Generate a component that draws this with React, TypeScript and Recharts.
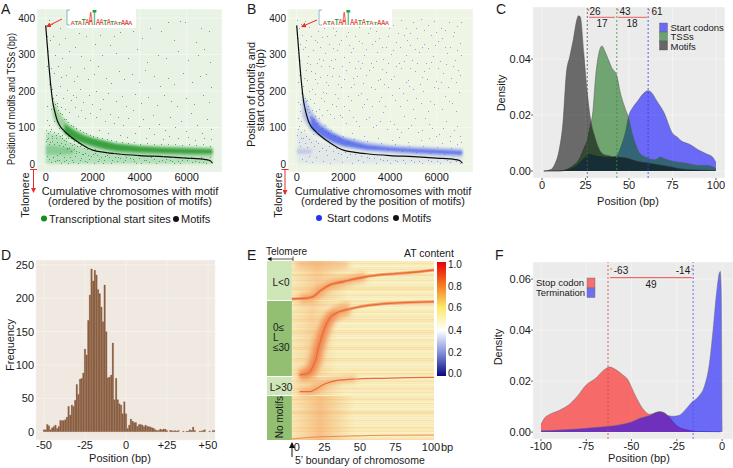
import React from "react";
import { ComposedChart, XAxis, YAxis, CartesianGrid, Area, Line, Scatter, Bar, ReferenceLine, ReferenceArea } from "recharts";

const FONT = "'Liberation Sans', Arial, sans-serif";
const INK = "#1a1a1a";

// ---- Panels A and B: motif curve
const motifX = [0, 50, 100, 150, 200, 250, 300, 400, 500, 600, 800, 1000, 1500, 2000, 2500, 3000, 4000, 5000, 6000, 6800, 7000, 7100];
const motifY = [380, 340, 300, 260, 225, 195, 170, 140, 118, 105, 90, 78, 55, 38, 32, 28, 23, 20, 16, 12, 9, 2];
const motifCurve = motifX.map((x, i) => ({ x, y: motifY[i] }));

// ---- Panel A: TSS bands [x, low, high]
const tssCloud = [[0, 0, 88], [500, 0, 82], [1000, 0, 60], [1500, 0, 48], [2000, 0, 38], [3000, 0, 28], [4000, 0, 23], [5000, 0, 20], [6000, 0, 18], [7100, 0, 14]];
const tssStrip = [[0, 26, 50], [400, 26, 50], [800, 26, 46], [1200, 28, 42]];
const tssOuter = [[300, 130, 178], [500, 105, 150], [700, 90, 130], [1000, 72, 108], [1500, 55, 88], [2000, 42, 75], [2500, 35, 65], [3000, 28, 58], [4000, 24, 52], [5000, 22, 50], [6000, 20, 48], [7100, 18, 46]];
const tssCore = [[800, 85, 110], [1200, 68, 92], [1600, 58, 78], [2000, 50, 70], [2500, 42, 62], [3000, 36, 55], [4000, 32, 48], [5000, 30, 44], [6000, 28, 42], [7100, 28, 40]];
// ---- Panel A: individually read sparse dots
const tssDots = [
  [120, 395], [40, 350], [260, 385], [600, 372], [820, 345], [1420, 360], [1710, 352], [2300, 355], [2890, 350], [3150, 362], [3720, 364], [4100, 345], [4420, 372], [4900, 365], [5210, 390], [5700, 392], [5920, 388], [6610, 372], [6950, 365], [6400, 335], [6720, 315], [5450, 340], [2720, 325], [2100, 330], [1230, 320], [560, 330], [330, 350], [180, 340],
  [90, 310], [410, 300], [710, 290], [980, 310], [1510, 295], [1900, 285], [2380, 300], [3010, 305], [3500, 290], [3890, 315], [4300, 280], [4770, 300], [5120, 290], [5620, 310], [6050, 285], [6480, 298], [7000, 280],
  [60, 270], [210, 262], [370, 250], [520, 270], [640, 238], [860, 245], [1030, 265], [1190, 228], [1340, 240], [1620, 262], [1780, 232], [2050, 248], [2240, 268], [2560, 236], [2770, 222], [3120, 255], [3340, 232], [3660, 246], [3980, 225], [4210, 258], [4610, 240], [4880, 215], [5190, 235], [5480, 218], [5830, 250], [6240, 226], [6570, 240], [6830, 248], [7020, 212],
  [150, 218], [280, 205], [440, 190], [590, 215], [730, 182], [900, 202], [1070, 176], [1150, 190], [1280, 184], [1460, 206], [1570, 170], [1840, 188], [1990, 165], [2160, 200], [2450, 178], [2660, 195], [2980, 172], [3230, 186], [3410, 160], [3780, 192], [4060, 168], [4350, 184], [4720, 162], [5020, 190], [5340, 172], [5590, 158], [5960, 182], [6330, 165], [6690, 190], [6940, 170],
  [70, 160], [230, 150], [480, 168], [660, 155], [820, 150], [1010, 142], [1240, 155], [1380, 132], [1520, 148], [1690, 125], [1880, 140], [2120, 128], [2310, 150], [2530, 118], [2720, 138], [2900, 112], [3090, 130], [3300, 108], [3520, 126], [3710, 148], [3950, 104], [4140, 122], [4380, 98], [4560, 134], [4810, 110], [5060, 94], [5280, 128], [5510, 102], [5760, 118], [5990, 90], [6190, 140], [6420, 108], [6640, 86], [6860, 124], [7050, 96],
  [40, 120], [130, 108], [210, 96], [340, 118], [430, 80], [560, 100], [690, 70], [850, 72], [2280, 92], [2650, 86], [3180, 80], [3440, 74], [3820, 84], [4250, 72], [4620, 82], [4990, 68], [5230, 76], [5650, 70], [6060, 74], [6370, 66], [6750, 70], [7040, 68],
  [60, 68], [150, 55], [250, 72], [330, 20], [470, 12], [620, 30], [760, 8], [900, 45], [1040, 18], [1180, 5], [1310, 35], [1450, 12], [1600, 28], [1750, 6], [1930, 22], [2090, 30], [2260, 14], [2420, 4], [2600, 24], [2840, 10], [3060, 20], [3290, 6], [3570, 16], [3840, 4], [4170, 12], [4490, 18], [4830, 8], [5140, 14], [5470, 3], [5800, 10], [6120, 16], [6510, 5], [6890, 12],
];
// ---- Panel A: the speckle of the low cloud and the edges of the dense band
const tssSpeckle = [
  [20, 92], [90, 84], [170, 90], [260, 78], [340, 88], [420, 72], [510, 84], [600, 76], [690, 80], [770, 66], [860, 62], [940, 70], [1050, 58], [1130, 52], [1220, 56], [1350, 48], [1480, 50], [1620, 44], [1770, 40], [1900, 42],
  [30, 62], [110, 70], [190, 60], [280, 64], [370, 55], [460, 60], [550, 52], [640, 58], [730, 48], [820, 54], [910, 40], [1000, 44], [1090, 36], [1190, 40], [1290, 30], [1400, 34], [1540, 26], [1680, 30], [1820, 24], [2010, 28], [2170, 24], [2340, 20], [2510, 22], [2700, 18], [2930, 20], [3180, 16], [3420, 18], [3700, 14], [3970, 16], [4260, 12], [4600, 14], [4950, 10], [5300, 12], [5650, 8], [6000, 10], [6350, 8], [6700, 6], [7000, 8],
  [40, 22], [130, 14], [220, 6], [310, 18], [400, 8], [490, 24], [580, 12], [670, 4], [760, 20], [850, 10], [950, 3], [1110, 12], [1260, 22], [1380, 4], [1520, 16], [1670, 8], [1840, 14], [2040, 4], [2210, 8], [2480, 12], [2760, 3], [3020, 8], [3380, 10], [3760, 7], [4050, 3], [4380, 5], [4700, 3], [5060, 6], [5390, 7], [5730, 4], [6240, 5], [6800, 3],
  [320, 182], [400, 164], [470, 158], [540, 148], [620, 140], [700, 136], [780, 124], [860, 122], [960, 115], [1080, 108], [1180, 104], [1300, 98], [1440, 94], [1580, 88], [1730, 84], [1870, 80], [2030, 78], [2200, 74], [2400, 70], [2600, 68], [2800, 66], [3000, 62], [3250, 60], [3500, 58], [3750, 60], [4000, 56], [4300, 58], [4600, 54], [4900, 56], [5200, 54], [5500, 56], [5800, 52], [6100, 54], [6400, 52], [6700, 54], [7000, 50],
  [720, 92], [820, 84], [940, 76], [1060, 70], [1210, 62], [1360, 58], [1520, 52], [1700, 50], [1900, 44], [2100, 40], [2350, 36], [2600, 32], [2900, 30], [3200, 28], [3550, 26], [3900, 24], [4250, 24], [4600, 22], [5000, 22], [5400, 20], [5800, 20], [6200, 20], [6600, 20], [7000, 18],
];

// ---- Panel B: start codon bands and dots
const startCloud = [[0, 0, 95], [500, 0, 80], [1000, 0, 60], [2000, 0, 42], [3000, 0, 32], [5000, 0, 24], [7100, 0, 20]];
const startStrip = [[0, 28, 42], [300, 28, 42], [650, 28, 40]];
const startOuter = [[250, 130, 192], [500, 100, 160], [800, 80, 130], [1000, 75, 115], [1500, 55, 90], [2000, 45, 75], [3000, 35, 60], [4000, 30, 52], [5000, 25, 48], [6000, 22, 45], [7100, 20, 42]];
const startCore = [[600, 100, 135], [1000, 80, 105], [1500, 62, 85], [2000, 50, 70], [2500, 45, 60], [3000, 40, 52], [4000, 36, 45], [5000, 32, 41], [6000, 29, 38], [7100, 26, 35]];
const startDots = [
  [30, 395], [90, 372], [180, 385], [350, 392], [540, 375], [780, 396], [1010, 380], [1300, 392], [1560, 372], [1820, 395], [2090, 382], [2430, 398], [2680, 375], [2950, 388], [3260, 398], [3540, 378], [3810, 392], [4120, 380], [4460, 396], [4700, 374], [4990, 388], [5320, 398], [5610, 380], [5880, 392], [6200, 374], [6530, 390], [6880, 378],
  [70, 345], [220, 355], [410, 340], [620, 352], [860, 335], [1100, 348], [1390, 330], [1630, 355], [1910, 340], [2220, 325], [2510, 350], [2780, 332], [3050, 358], [3340, 338], [3660, 322], [3930, 350], [4270, 335], [4580, 355], [4860, 325], [5160, 345], [5470, 330], [5760, 355], [6050, 338], [6360, 322], [6690, 350], [6990, 332],
  [50, 310], [290, 315], [500, 295], [710, 312], [960, 288], [1220, 305], [1480, 285], [1740, 312], [2010, 292], [2330, 306], [2620, 282], [2890, 300], [3180, 276], [3450, 308], [3720, 288], [4030, 302], [4380, 278], [4670, 298], [4950, 284], [5250, 306], [5540, 276], [5850, 296], [6130, 282], [6440, 304], [6780, 286], [7040, 298],
  [160, 270], [380, 258], [590, 275], [800, 250], [1040, 268], [1290, 245], [1570, 262], [1830, 240], [2120, 258], [2400, 236], [2700, 262], [2980, 244], [3290, 266], [3570, 232], [3840, 252], [4150, 240], [4490, 264], [4780, 230], [5060, 256], [5380, 238], [5680, 262], [5980, 228], [6290, 250], [6600, 236], [6910, 258],
  [60, 225], [250, 215], [450, 230], [660, 205], [890, 222], [1130, 198], [1360, 216], [1640, 192], [1900, 210], [2190, 186], [2470, 218], [2750, 196], [3020, 178], [3360, 206], [3630, 184], [3900, 212], [4210, 176], [4540, 196], [4830, 214], [5120, 180], [5430, 200], [5730, 172], [6040, 208], [6350, 186], [6660, 168], [6970, 198],
  [40, 170], [140, 145], [460, 175], [720, 168], [950, 150], [1190, 172], [1440, 138], [1700, 158], [1960, 128], [2260, 148], [2540, 118], [2820, 155], [3120, 130], [3410, 108], [3700, 142], [3990, 118], [4320, 96], [4610, 132], [4900, 108], [5200, 88], [5510, 125], [5800, 100], [6110, 82], [6420, 118], [6730, 92], [7020, 76],
  [50, 125], [110, 105], [200, 118], [300, 92], [410, 78], [540, 68], [680, 82], [840, 62], [2350, 86], [2900, 76], [3500, 70], [4080, 66], [4400, 74], [4750, 60], [5320, 65], [5660, 72], [6220, 58], [6550, 64], [6880, 56], [7060, 60],
  [30, 80], [80, 60], [130, 48], [190, 70], [240, 15], [380, 8], [520, 22], [660, 5], [810, 18], [970, 35], [1120, 8], [1280, 24], [1430, 4], [1590, 14], [1760, 30], [1950, 6], [2140, 20], [2370, 3], [2610, 12], [2860, 6], [3110, 16], [3390, 3], [3680, 10], [3990, 2], [4310, 8], [4640, 3], [5010, 6], [5380, 2], [5770, 7], [6160, 3], [6590, 5], [6980, 2],
];
const startSpeckle = [
  [240, 378], [610, 388], [930, 365], [1180, 372], [1700, 365], [2200, 362], [2560, 385], [3150, 372], [3420, 365], [3960, 372], [4350, 360], [4850, 360], [5120, 372], [5470, 368], [5990, 362], [6340, 368], [6760, 362], [7030, 390],
  [160, 330], [350, 322], [780, 340], [1010, 322], [1280, 352], [1570, 318], [1820, 328], [2110, 352], [2410, 318], [2680, 338], [2990, 316], [3240, 328], [3530, 345], [3810, 320], [4140, 312], [4440, 322], [4740, 340], [5050, 315], [5360, 322], [5640, 318], [5940, 325], [6240, 345], [6560, 320], [6860, 312],
  [120, 285], [420, 278], [610, 255], [880, 278], [1120, 285], [1380, 270], [1650, 288], [1920, 268], [2240, 280], [2520, 262], [2800, 276], [3080, 258], [3380, 282], [3640, 260], [3920, 276], [4260, 268], [4580, 282], [4870, 262], [5160, 278], [5460, 256], [5770, 280], [6060, 262], [6380, 275], [6710, 268], [7000, 245],
  [90, 245], [300, 235], [520, 200], [770, 232], [1000, 238], [1240, 225], [1500, 240], [1760, 220], [2040, 232], [2310, 212], [2600, 240], [2860, 222], [3170, 212], [3480, 230], [3760, 218], [4060, 232], [4370, 208], [4690, 226], [4980, 205], [5280, 220], [5590, 234], [5880, 210], [6180, 224], [6500, 212], [6820, 226],
  [180, 195], [350, 182], [570, 178], [780, 192], [1030, 182], [1260, 195], [1510, 165], [1780, 182], [2040, 160], [2320, 176], [2630, 190], [2900, 165], [3210, 158], [3510, 172], [3780, 160], [4100, 188], [4420, 160], [4730, 175], [5000, 150], [5310, 168], [5620, 145], [5900, 165], [6210, 150], [6540, 172], [6820, 145],
  [120, 165], [310, 155], [820, 145], [1080, 135], [1300, 148], [1580, 125], [1840, 135], [2120, 112], [2400, 130], [2680, 105], [2970, 122], [3260, 102], [3580, 118], [3860, 95], [4190, 110], [4480, 88], [4770, 100], [5060, 125], [5360, 92], [5660, 110], [5950, 76], [6280, 100], [6590, 78], [6860, 105],
  [60, 95], [170, 88], [270, 70], [360, 58], [460, 46], [600, 60], [760, 48], [920, 58], [1070, 44], [1240, 38], [1390, 48], [1540, 36], [1700, 44], [1880, 28], [2060, 32], [2280, 28], [2520, 26], [2770, 22], [3020, 18], [3300, 16], [3590, 14], [3870, 12], [4200, 12], [4540, 10], [4900, 11], [5240, 8], [5620, 12], [6020, 9], [6430, 12], [6840, 8],
  [260, 180], [330, 160], [380, 172], [420, 150], [470, 160], [530, 142], [590, 130], [650, 148], [720, 122], [790, 132], [870, 112], [960, 125], [1080, 100], [1200, 108], [1330, 84], [1470, 92], [1620, 78], [1800, 72], [1990, 76], [2200, 60], [2450, 68], [2700, 50], [3000, 62], [3300, 46], [3600, 58], [3900, 40], [4200, 54], [4500, 36], [4800, 50], [5100, 34], [5400, 48], [5700, 30], [6000, 46], [6300, 28], [6600, 44], [6900, 26],
];

// ---- Panel C: densities
const cMotifs = [[1, 0], [5, 0.0005], [7, 0.002], [10, 0.008], [12, 0.017], [14, 0.035], [16, 0.041], [18, 0.047], [20, 0.054], [21, 0.0555], [22, 0.055], [24, 0.042], [26, 0.028], [28, 0.018], [30, 0.013], [32, 0.009], [35, 0.006], [38, 0.0055], [40, 0.0052], [45, 0.005], [50, 0.0045], [55, 0.0035], [60, 0.003], [65, 0.0025], [70, 0.002], [75, 0.0014], [80, 0.0008], [90, 0.0004], [100, 0.0002]];
const cTss = [[1, 0], [10, 0], [14, 0.0005], [18, 0.002], [20, 0.003], [22, 0.005], [24, 0.008], [26, 0.011], [28, 0.017], [29, 0.02], [31, 0.035], [33, 0.043], [34.5, 0.0447], [36, 0.043], [38, 0.04], [40, 0.037], [43, 0.034], [45, 0.028], [48, 0.022], [50, 0.0185], [52, 0.013], [54.5, 0.0085], [56, 0.0065], [60, 0.0048], [65, 0.004], [68, 0.005], [70, 0.0045], [75, 0.0035], [80, 0.003], [85, 0.0025], [90, 0.002], [95, 0.002], [100, 0.001]];
const cStart = [[1, 0], [10, 0], [15, 0.0005], [20, 0.002], [25, 0.005], [27, 0.006], [30, 0.0055], [35, 0.005], [40, 0.0048], [43, 0.0055], [45, 0.008], [48, 0.014], [50, 0.02], [52, 0.0225], [55, 0.025], [58, 0.0275], [61, 0.0287], [63, 0.028], [66, 0.025], [70, 0.021], [75, 0.0135], [78, 0.012], [80, 0.0108], [85, 0.0095], [90, 0.0075], [95, 0.006], [98, 0.005], [100, 0.003]];

// ---- Panel D: histogram (-50 to +55)
const histStart = -50;
const histCounts = [3, 3, 11, 9, 3, 6, 8, 10, 5, 8, 17, 17, 17, 18, 22, 38, 25, 40, 38, 47, 71, 56, 79, 80, 88, 124, 115, 167, 205, 244, 226, 242, 235, 213, 207, 187, 165, 220, 150, 81, 82, 85, 133, 48, 80, 48, 42, 40, 27, 45, 27, 5, 10, 19, 16, 14, 14, 8, 11, 11, 10, 8, 10, 8, 8, 7, 6, 5, 3, 2, 2, 4, 3, 4, 4, 2, 0, 2, 2, 1, 2, 1, 2, 0, 0, 1, 0, 1, 1, 3, 2, 7, 2, 0, 0, 1, 1, 2, 3, 0, 0, 1, 0, 2, 2];

// ---- Panel E: heat map pieces
const groupNames = ["L<0", "0≤ L ≤30", "L>30", "No motifs"];
const groupFrom = [0, 40, 116, 135];
const groupTo = [39, 115, 134, 179];
const groupFill = ["#CFE6B8", "#92BF72", "#CFE6B8", "#92BF72"];
const rowShades = "120321043120312401230214301203142031024130210342013042103120413021034120314021302413021304120314";
const shadeColors = ["#FBF0B8", "#F8EAB2", "#F7E3A8", "#F2EBBF", "#F8DEA4"];
const warmFromX = [0, 0, 0, 0];
const warmToX = [40, 32, 36, 44];
const warmFromY = [0, 40, 116, 135];
const warmToY = [39, 115, 134, 179];
const warmOpacity = [0.75, 0.6, 0.8, 1];
const ridge1X = [0, 5.4, 10, 14.8, 20.7, 26.5, 36, 52, 69, 85, 100];
const ridge1Y = [38, 37.6, 37.3, 35.7, 29, 24, 20.7, 15.7, 13, 11.3, 9];
const ridge2X = [5.4, 11.3, 14.8, 17, 18.3, 20.7, 23, 26.5, 31, 40.6, 52.3, 68.8, 85, 100];
const ridge2Y = [114, 112.3, 105.7, 97.3, 89, 77.3, 67.3, 57.3, 52.3, 48, 44.7, 42.3, 41.3, 40.7];
const ridge3X = [5.4, 12.4, 17, 23, 31, 45, 64, 83, 100];
const ridge3Y = [130.7, 130.7, 128, 123, 119.7, 118, 117.3, 116.7, 116.3];
const ridge4X = [0, 17, 41, 64, 100];
const ridge4Y = [178, 176, 175, 174.3, 174];
const ridge5X = [3, 12, 25, 40];
const ridge5Y = [3, 3, 3.5, 4];
const zip = (xs: number[], ys: number[]) => xs.map((x, i) => ({ x, y: ys[i] }));

// ---- Panel F: densities
const fStop = [[-100, 0.003], [-98, 0.0055], [-95, 0.007], [-90, 0.0085], [-85, 0.0105], [-80, 0.014], [-75, 0.0185], [-70, 0.021], [-65, 0.0245], [-62, 0.0255], [-60, 0.025], [-55, 0.0225], [-52, 0.0205], [-50, 0.0175], [-47, 0.013], [-43, 0.0085], [-40, 0.007], [-37, 0.0075], [-34, 0.008], [-30, 0.0065], [-27, 0.004], [-25, 0.0025], [-20, 0.001], [-15, 0.0003], [-10, 0.0002], [-1, 0.0001]];
const fTerm = [[-100, 0.0005], [-90, 0.0008], [-80, 0.0012], [-70, 0.0018], [-60, 0.0025], [-50, 0.004], [-45, 0.0055], [-40, 0.0065], [-35, 0.008], [-32, 0.0075], [-30, 0.0065], [-27, 0.0062], [-24, 0.0065], [-20, 0.009], [-17, 0.0115], [-13, 0.014], [-10, 0.0175], [-7, 0.027], [-5, 0.04], [-3, 0.055], [-1.5, 0.0625], [-1, 0.063], [-0.5, 0.055], [0, 0.0002]];

const pts = (rows: number[][]) => rows.map(([x, y]) => ({ x, y }));
const band = (rows: number[][]) => rows.map(([x, lo, hi]) => ({ x, r: [lo, hi] }));

const tickStyle = { fontSize: 11, fill: INK, fontFamily: FONT };
const smallTick = { fontSize: 10, fill: INK, fontFamily: FONT };

function Box({ left, top, w, h, children }: any) {
  return <div style={{ position: "absolute", left, top, width: w, height: h }}>{children}</div>;
}

const dot = (color: string, op: number) => (p: any) => <rect x={Math.round(p.cx)} y={Math.round(p.cy)} width={1} height={1} fill={color} fillOpacity={op} />;

function ScatterPanel({ left, top, w, h, L, B, xd, yd, bg, color, dotOp, dots, speckle, cloud, strip, outer, core, cloudOp, stripOp, outerOp, coreOp }: any) {
  return (
    <Box left={left} top={top} w={w} h={h}>
      <ComposedChart width={w} height={h} margin={{ top: 0, right: 0, bottom: 0, left: 0 }}>
        <defs>
          <filter id="soft1" filterUnits="userSpaceOnUse" x="0" y="0" width="260" height="200">
            <feGaussianBlur stdDeviation="1.2" />
          </filter>
        </defs>
        <CartesianGrid fill={bg} stroke="#F6FAF3" strokeWidth={0.7} />
        <XAxis type="number" dataKey="x" domain={xd} ticks={[0, 2000, 4000, 6000]} allowDataOverflow height={B} axisLine={false} tickLine={false} tickSize={0} tick={tickStyle} tickMargin={1} interval={0} />
        <YAxis type="number" dataKey="y" domain={yd} ticks={[0, 100, 200, 300, 400]} allowDataOverflow width={L} axisLine={false} tickLine={false} tickSize={0} tick={smallTick} tickMargin={2} interval={0} />
        <Area data={band(cloud)} dataKey="r" stroke="none" fill={color} fillOpacity={cloudOp} filter="url(#soft1)" isAnimationActive={false} />
        <Area data={band(strip)} dataKey="r" stroke="none" fill={color} fillOpacity={stripOp} filter="url(#soft1)" isAnimationActive={false} />
        <Area data={band(outer)} dataKey="r" stroke="none" fill={color} fillOpacity={outerOp} filter="url(#soft1)" isAnimationActive={false} />
        <Area data={band(core)} dataKey="r" stroke="none" fill={color} fillOpacity={coreOp} filter="url(#soft1)" isAnimationActive={false} />
        <Scatter data={pts(dots)} dataKey="y" shape={dot(color, dotOp)} isAnimationActive={false} />
        <Scatter data={pts(speckle)} dataKey="y" shape={dot(color, dotOp)} isAnimationActive={false} />
        <Line data={motifCurve} dataKey="y" dot={false} stroke="#0b0b0b" strokeWidth={1.2} type="monotone" isAnimationActive={false} />
      </ComposedChart>
    </Box>
  );
}

const logoLetters = "ATATAATAATATATAAA";
const logoHeights = [4.5, 4.5, 4.5, 6, 7, 13, 15.5, 6, 6, 5, 6, 4, 4, 3, 5, 5, 4];

function Logo({ x, y, w }: any) {
  const step = w / logoLetters.length;
  return (
    <g>
      <path d={`M${x - 1} ${y - 15}h-3v15h3`} stroke="#6FA3A8" fill="none" strokeWidth={0.8} />
      {logoLetters.split("").map((c, i) => {
        const h = logoHeights[i];
        const tx = x + step * (i + 0.5);
        return (
          <text key={i} transform={`translate(${tx} ${y}) scale(0.62 ${h / 7.2})`} textAnchor="middle" fontSize={10} fontWeight="bold" fontFamily={FONT} fill={c === "A" ? "#E2534B" : "#23A13B"}>
            {c}
          </text>
        );
      })}
    </g>
  );
}

const T = ({ x, y, s = 11, a = "start", r, children, w, len }: any) => (
  <text x={x} y={y} fontSize={s} textAnchor={a} fontFamily={FONT} fill={INK} fontWeight={w} textLength={len} lengthAdjust={len ? "spacingAndGlyphs" : undefined} transform={r ? `rotate(${r} ${x} ${y})` : undefined}>
    {children}
  </text>
);

export default function App() {
  const histData = histCounts.map((y, i) => ({ x: histStart + i, y }));
  return (
    <div style={{ position: "absolute", left: 0, top: 0, width: 733, height: 468, background: "#fff", overflow: "hidden" }}>
      <ScatterPanel left={1} top={9} w={221} h={187} L={36} B={24} xd={[-370, 7502]} yd={[-22, 425]} bg="#E8F3E5" color="#12901c" dotOp={0.7} dots={tssDots} speckle={tssSpeckle} cloud={tssCloud} strip={tssStrip} outer={tssOuter} core={tssCore} cloudOp={0.22} stripOp={0.25} outerOp={0.34} coreOp={0.72} />
      <ScatterPanel left={252} top={9} w={221} h={187} L={36} B={24} xd={[-373, 7556]} yd={[-22, 425]} bg="#EEF5E5" color="#3348EE" dotOp={0.5} dots={startDots} speckle={startSpeckle} cloud={startCloud} strip={startStrip} outer={startOuter} core={startCore} cloudOp={0.07} stripOp={0.18} outerOp={0.3} coreOp={0.62} />

      {/* C */}
      <Box left={503} top={7} w={222} h={187}>
        <ComposedChart width={222} height={187} margin={{ top: 0, right: 0, bottom: 0, left: 0 }}>
          <CartesianGrid fill="#EBEBEB" stroke="#F7F7F7" strokeWidth={0.7} />
          <XAxis type="number" dataKey="x" domain={[-5.2, 105.2]} ticks={[0, 25, 50, 75, 100]} allowDataOverflow height={16} axisLine={false} tickLine={{ stroke: "#666" }} tickSize={2} tick={tickStyle} tickMargin={1} interval={0} />
          <YAxis type="number" domain={[-0.0025, 0.0586]} ticks={[0, 0.02, 0.04]} tickFormatter={(v: number) => v.toFixed(2)} allowDataOverflow width={30} axisLine={false} tickLine={{ stroke: "#666" }} tickSize={2} tick={tickStyle} tickMargin={0} interval={0} />
          <Area data={pts(cStart)} dataKey="y" type="monotone" stroke="#555" strokeWidth={0.5} fill="#0000FF" fillOpacity={0.55} isAnimationActive={false} />
          <Area data={pts(cTss)} dataKey="y" type="monotone" stroke="#555" strokeWidth={0.5} fill="#006400" fillOpacity={0.52} isAnimationActive={false} />
          <Area data={pts(cMotifs)} dataKey="y" type="monotone" stroke="#444" strokeWidth={0.5} fill="#000000" fillOpacity={0.55} isAnimationActive={false} />
          <ReferenceLine x={26} stroke="#555" strokeDasharray="2 2" strokeWidth={0.8} />
          <ReferenceLine x={43} stroke="#3F8F3F" strokeDasharray="2 2" strokeWidth={0.8} />
          <ReferenceLine x={61} stroke="#3A3AEE" strokeDasharray="2 2" strokeWidth={0.8} />
        </ComposedChart>
      </Box>

      {/* D */}
      <Box left={0} top={260} w={228} h={196}>
        <ComposedChart width={228} height={196} data={histData} margin={{ top: 0, right: 13, bottom: 0, left: 0 }}>
          <CartesianGrid fill="#F0E9E1" stroke="#F8F3EE" strokeWidth={0.7} />
          <XAxis type="number" dataKey="x" domain={[-54.9, 54.3]} ticks={[-50, -25, 0, 25, 50]} tickFormatter={(v: number) => (v > 0 ? `+${v}` : `${v}`)} allowDataOverflow height={16} axisLine={false} tickLine={false} tickSize={0} tick={tickStyle} tickMargin={1} interval={0} />
          <YAxis type="number" domain={[-12.4, 257.4]} ticks={[0, 50, 100, 150, 200, 250]} allowDataOverflow width={36} axisLine={false} tickLine={false} tickSize={0} tick={tickStyle} tickMargin={2} interval={0} />
          <Bar dataKey="y" barSize={1.6} fill="#8C6143" stroke="#7A4F33" strokeWidth={0.15} isAnimationActive={false} />
        </ComposedChart>
      </Box>

      {/* E */}
      <Box left={267} top={261} w={177} h={195}>
        <ComposedChart width={177} height={195} margin={{ top: 0, right: 10, bottom: 0, left: 0 }}>
          <defs>
            <filter id="blurWide" filterUnits="userSpaceOnUse" x="0" y="0" width="200" height="200">
              <feGaussianBlur stdDeviation="2.6" />
            </filter>
            <filter id="blurThin" filterUnits="userSpaceOnUse" x="0" y="0" width="200" height="200">
              <feGaussianBlur stdDeviation="0.7" />
            </filter>
            <linearGradient id="warmAll" x1="0" x2="1" y1="0" y2="0">
              <stop offset="0" stopColor="#F5A860" stopOpacity={0.12} />
              <stop offset="0.45" stopColor="#F39A55" stopOpacity={0.55} />
              <stop offset="1" stopColor="#F5A860" stopOpacity={0} />
            </linearGradient>
          </defs>
          <XAxis type="number" dataKey="x" domain={[-17.5, 100]} ticks={[0, 25, 50, 75, 100]} allowDataOverflow height={16} axisLine={false} tickLine={false} interval={0}
            tick={(p: any) => (
              <text x={p.x + (p.payload.value === 0 ? 5 : -3)} y={451} textAnchor="middle" fontSize={11} fontFamily={FONT} fill={INK} transform="translate(0 -261)">
                {p.payload.value}
              </text>
            )}
          />
          <YAxis type="number" dataKey="y" domain={[0, 179]} reversed hide allowDataOverflow />
          {rowShades.split("").map((c, i) => (
            <ReferenceArea key={i} x1={0} x2={100} y1={(i * 179) / rowShades.length} y2={((i + 1) * 179) / rowShades.length} fill={shadeColors[Number(c)]} fillOpacity={1} stroke="none" />
          ))}
          {warmFromX.map((x, i) => (
            <ReferenceArea key={`w${i}`} x1={x} x2={warmToX[i]} y1={warmFromY[i]} y2={warmToY[i]} fill="url(#warmAll)" fillOpacity={warmOpacity[i]} stroke="none" />
          ))}
          <Line data={zip(ridge5X, ridge5Y)} dataKey="y" dot={false} type="monotone" stroke="#F3A266" strokeOpacity={0.5} strokeWidth={7} filter="url(#blurWide)" isAnimationActive={false} />
          <Line data={zip(ridge2X.slice(0, 10), ridge2Y.slice(0, 10))} dataKey="y" dot={false} type="monotone" stroke="#F29A5C" strokeOpacity={0.75} strokeWidth={13} filter="url(#blurWide)" isAnimationActive={false} />
          <Line data={zip(ridge2X.slice(0, 9), ridge2Y.slice(0, 9))} dataKey="y" dot={false} type="monotone" stroke="#EE7242" strokeOpacity={0.8} strokeWidth={5} filter="url(#blurWide)" isAnimationActive={false} />
          <Line data={zip(ridge2X, ridge2Y)} dataKey="y" dot={false} type="monotone" stroke="#F08A50" strokeOpacity={0.7} strokeWidth={3} filter="url(#blurThin)" isAnimationActive={false} />
          <Line data={zip(ridge2X, ridge2Y)} dataKey="y" dot={false} type="monotone" stroke="#EC6B3B" strokeWidth={1.2} filter="url(#blurThin)" isAnimationActive={false} />
          <Line data={zip(ridge1X.slice(1, 8), ridge1Y.slice(1, 8))} dataKey="y" dot={false} type="monotone" stroke="#F29A5C" strokeOpacity={0.7} strokeWidth={9} filter="url(#blurWide)" isAnimationActive={false} />
          <Line data={zip(ridge1X, ridge1Y)} dataKey="y" dot={false} type="monotone" stroke="#F08A50" strokeOpacity={0.7} strokeWidth={3} filter="url(#blurThin)" isAnimationActive={false} />
          <Line data={zip(ridge1X, ridge1Y)} dataKey="y" dot={false} type="monotone" stroke="#EC6B3B" strokeWidth={1.4} filter="url(#blurThin)" isAnimationActive={false} />
          <Line data={zip(ridge3X.slice(0, 6), ridge3Y.slice(0, 6))} dataKey="y" dot={false} type="monotone" stroke="#F29A5C" strokeOpacity={0.6} strokeWidth={6} filter="url(#blurWide)" isAnimationActive={false} />
          <Line data={zip(ridge3X, ridge3Y)} dataKey="y" dot={false} type="monotone" stroke="#EC6B3B" strokeWidth={1.2} filter="url(#blurThin)" isAnimationActive={false} />
          <Line data={zip(ridge4X, ridge4Y)} dataKey="y" dot={false} type="monotone" stroke="#F08A50" strokeWidth={1.1} filter="url(#blurThin)" isAnimationActive={false} />
          {groupNames.map((g, i) => (
            <ReferenceArea key={g} x1={-17.5} x2={0} y1={groupFrom[i]} y2={groupTo[i]} fill={groupFill[i]} fillOpacity={1} stroke="none" ifOverflow="visible" />
          ))}
        </ComposedChart>
      </Box>

      {/* F */}
      <Box left={503} top={262} w={230} h={194}>
        <ComposedChart width={230} height={194} margin={{ top: 0, right: 0, bottom: 0, left: 0 }}>
          <CartesianGrid fill="#EBEBEB" stroke="#F7F7F7" strokeWidth={0.7} />
          <XAxis type="number" dataKey="x" domain={[-104.4, 6]} ticks={[-100, -75, -50, -25, 0]} allowDataOverflow height={17} axisLine={false} tickLine={{ stroke: "#666" }} tickSize={2} tick={tickStyle} tickMargin={1} interval={0} />
          <YAxis type="number" domain={[-0.0027, 0.0667]} ticks={[0, 0.02, 0.04, 0.06]} tickFormatter={(v: number) => v.toFixed(2)} allowDataOverflow width={30} axisLine={false} tickLine={{ stroke: "#666" }} tickSize={2} tick={tickStyle} tickMargin={0} interval={0} />
          <Area data={pts(fStop)} dataKey="y" type="monotone" stroke="#666" strokeWidth={0.5} fill="#FF0000" fillOpacity={0.55} isAnimationActive={false} />
          <Area data={pts(fTerm)} dataKey="y" type="monotone" stroke="#666" strokeWidth={0.5} fill="#0000FF" fillOpacity={0.55} isAnimationActive={false} />
          <ReferenceLine x={-63} stroke="#E64040" strokeDasharray="2 2" strokeWidth={0.8} />
          <ReferenceLine x={-16} stroke="#4A4AEE" strokeDasharray="2 2" strokeWidth={0.8} />
        </ComposedChart>
      </Box>

      {/* Colour bar and annotations */}
      <svg width={733} height={468} style={{ position: "absolute", left: 0, top: 0, pointerEvents: "none" }}>
        <defs>
          <linearGradient id="atBar" x1="0" x2="0" y1="0" y2="1">
            <stop offset="0" stopColor="#E8000B" />
            <stop offset="0.2" stopColor="#F47A1F" />
            <stop offset="0.4" stopColor="#FCE96A" />
            <stop offset="0.6" stopColor="#FFFFFF" />
            <stop offset="0.8" stopColor="#7E8FD8" />
            <stop offset="1" stopColor="#08087A" />
          </linearGradient>
          <marker id="redHead" markerWidth="5" markerHeight="5" refX="4" refY="2.5" orient="auto">
            <path d="M0 0L5 2.5L0 5z" fill="#EE2A24" />
          </marker>
          <marker id="blackHead" markerWidth="6" markerHeight="6" refX="5" refY="3" orient="auto">
            <path d="M0 0L6 3L0 6z" fill="#111" />
          </marker>
        </defs>

        {/* panel letters */}
        <T x={1} y={14} s={14}>A</T>
        <T x={247} y={14} s={14}>B</T>
        <T x={496} y={14} s={14}>C</T>
        <T x={1} y={260} s={14}>D</T>
        <T x={247} y={260} s={14}>E</T>
        <T x={495} y={260} s={14}>F</T>

        {/* A */}
        <rect x={67} y={0} width={69} height={28} fill="#fff" />
        <Logo x={71} y={25} w={61} />
        <path d="M62 19L47 26.5" stroke="#EE2A24" strokeWidth={1} markerEnd="url(#redHead)" />
        <T x={15} y={99} s={10.8} a="middle" r={-90} len={132}>Position of motifs and TSSs (bp)</T>
        <T x={130} y={195} s={11} a="middle">Cumulative chromosomes with motif</T>
        <T x={130} y={205} s={11} a="middle">(ordered by the position of motifs)</T>
        <path d="M30 169.5H37M33.5 169.5V192" stroke="#EE2A24" strokeWidth={1} markerEnd="url(#redHead)" />
        <T x={29} y={195} s={11} a="middle" r={-90}>Telomere</T>
        <circle cx={44} cy={218.5} r={3} fill="#12901c" />
        <T x={49} y={223} s={11}>Transcriptional start sites</T>
        <circle cx={176} cy={219} r={3} fill="#111" />
        <T x={181} y={223} s={11}>Motifs</T>

        {/* B */}
        <rect x={318} y={0} width={74} height={27} fill="#fff" />
        <Logo x={323} y={25} w={66} />
        <path d="M317 20L302 26.5" stroke="#EE2A24" strokeWidth={1} markerEnd="url(#redHead)" />
        <T x={255} y={94.5} s={11} a="middle" r={-90}>Position of motifs and</T>
        <T x={264} y={90} s={11} a="middle" r={-90}>start codons (bp)</T>
        <T x={383} y={195} s={11} a="middle">Cumulative chromosomes with motif</T>
        <T x={383} y={205} s={11} a="middle">(ordered by the position of motifs)</T>
        <path d="M281.5 169.5H288.5M285 169.5V194" stroke="#EE2A24" strokeWidth={1} markerEnd="url(#redHead)" />
        <T x={282} y={195} s={11} a="middle" r={-90}>Telomere</T>
        <circle cx={319} cy={218} r={3} fill="#2233EE" />
        <T x={327} y={222} s={11}>Start codons</T>
        <circle cx={396} cy={218} r={3} fill="#111" />
        <T x={402} y={222} s={11}>Motifs</T>

        {/* C */}
        <T x={505} y={93} s={11} a="middle" r={-90}>Density</T>
        <T x={628} y={205} s={11} a="middle">Position (bp)</T>
        <path d="M589 17.3H615M618 17.3H647" stroke="#EE3A34" strokeWidth={0.8} />
        <circle cx={588.5} cy={10} r={0.7} fill="#EE3A34" />
        <circle cx={618} cy={10} r={0.7} fill="#EE3A34" />
        <circle cx={649} cy={10} r={0.7} fill="#EE3A34" />
        <T x={595} y={15} s={10} a="middle">26</T>
        <T x={625} y={15} s={10} a="middle">43</T>
        <T x={657} y={15} s={10} a="middle">61</T>
        <T x={602} y={27} s={10} a="middle">17</T>
        <T x={632} y={27} s={10} a="middle">18</T>
        <rect x={659.5} y={23} width={8} height={9} fill="#6A6AF0" stroke="#666" strokeWidth={0.4} />
        <rect x={659.5} y={32} width={8} height={9} fill="#6CA26C" stroke="#666" strokeWidth={0.4} />
        <rect x={659.5} y={41} width={8} height={9} fill="#666" stroke="#555" strokeWidth={0.4} />
        <T x={670.5} y={31} s={9.5}>Start codons</T>
        <T x={670.5} y={40} s={9.5}>TSSs</T>
        <T x={670.5} y={49.5} s={9.5}>Motifs</T>

        {/* D */}
        <T x={14} y={345} s={11} a="middle" r={-90}>Frequency</T>
        <T x={120} y={462} s={11} a="middle">Position (bp)</T>

        {/* E */}
        <T x={266} y={255} s={10}>Telomere</T>
        <path d="M293 259H268" stroke="#111" strokeWidth={0.7} markerEnd="url(#blackHead)" />
        <path d="M293 256.5V261" stroke="#111" strokeWidth={0.7} />
        <T x={404} y={257} s={10.5}>AT content</T>
        <rect x={437} y={262} width={9} height={114} fill="url(#atBar)" />
        <T x={448} y={268} s={10}>1.0</T>
        <T x={448} y={290} s={10}>0.8</T>
        <T x={448} y={311} s={10}>0.6</T>
        <T x={448} y={334} s={10}>0.4</T>
        <T x={448} y={356} s={10}>0.2</T>
        <T x={448} y={377} s={10}>0.0</T>
        <T x={281} y={286} s={10} a="middle">L&lt;0</T>
        <T x={273} y={331} s={10}>0≤</T>
        <T x={273} y={341} s={10}>L</T>
        <T x={273} y={351} s={10}>≤30</T>
        <T x={281} y={391} s={10} a="middle">L&gt;30</T>
        <T x={283} y={417} s={10} a="middle" r={-90}>No motifs</T>
        <T x={441} y={451} s={11}>bp</T>
        <path d="M292 457V443" stroke="#111" strokeWidth={1} markerEnd="url(#blackHead)" />
        <T x={295} y={464} s={10.5}>5’ boundary of chromosome</T>

        {/* F */}
        <T x={502} y={347} s={11} a="middle" r={-90}>Density</T>
        <T x={639} y={462} s={11} a="middle">Position (bp)</T>
        <path d="M610 277.7H692" stroke="#EE3A34" strokeWidth={0.9} />
        <circle cx={611} cy={269} r={0.7} fill="#EE3A34" />
        <circle cx={692} cy={269} r={0.7} fill="#EE3A34" />
        <T x={621} y={274} s={10} a="middle">-63</T>
        <T x={683} y={274} s={10} a="middle">-14</T>
        <T x={651} y={288} s={10} a="middle">49</T>
        <T x={536} y={286} s={9.5}>Stop codon</T>
        <T x={536} y={296} s={9.5}>Termination</T>
        <rect x={587} y={278} width={8} height={10} fill="#F47070" stroke="#666" strokeWidth={0.4} />
        <rect x={587} y={288} width={8} height={9.5} fill="#6F6FF0" stroke="#666" strokeWidth={0.4} />
      </svg>
    </div>
  );
}
